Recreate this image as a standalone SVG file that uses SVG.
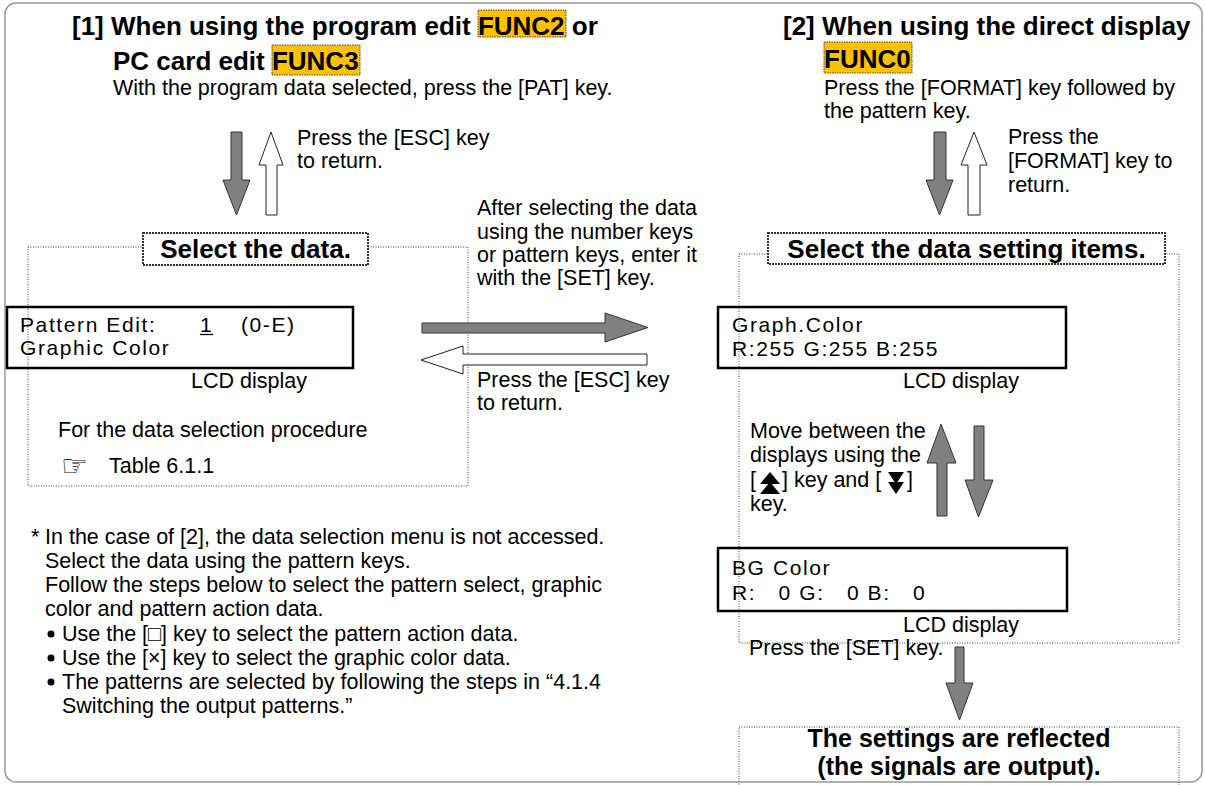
<svg xmlns="http://www.w3.org/2000/svg" width="1205" height="785" viewBox="0 0 1205 785">
  <style>
    text { font-family: "Liberation Sans", Arial, sans-serif; fill: #000; }
    .title { font-size: 26px; font-weight: bold; }
    .body { font-size: 21.5px; }
    .head { font-size: 26px; font-weight: bold; }
    .result { font-size: 25px; font-weight: bold; }
    .lcd { font-size: 21px; letter-spacing: 1.6px; }
    .frame { fill: none; stroke: #444; stroke-width: 1; stroke-dasharray: 1 1.5; }
    .label-box { fill: #fff; stroke: #333; stroke-width: 2; stroke-dasharray: 2 1; }
    .lcd-box { fill: none; stroke: #000; stroke-width: 2.5; }
    .hl { fill: #FFC000; stroke: #444; stroke-width: 1; stroke-dasharray: 1.5 1; }
    .arrow-dark { fill: #808080; stroke: #333; stroke-width: 1; }
    .arrow-light { fill: #fff; stroke: #222; stroke-width: 1; }
  </style>

  <!-- outer frame -->
  <rect x="5" y="3" width="1197" height="779" rx="11" ry="11" fill="#fff" stroke="#999" stroke-width="1.5"/>

  <!-- section [1] heading -->
  <g id="heading-1">
    <rect class="hl" x="478" y="10" width="88" height="27"/>
    <rect class="hl" x="272" y="45" width="88" height="30"/>
    <text class="title" x="72" y="35">[1] When using the program edit FUNC2 or</text>
    <text class="title" x="113" y="70">PC card edit FUNC3</text>
    <text class="body" x="113" y="95">With the program data selected, press the [PAT] key.</text>
  </g>

  <!-- section [2] heading -->
  <g id="heading-2">
    <rect class="hl" x="824" y="42" width="88" height="31"/>
    <text class="title" x="783" y="35">[2] When using the direct display</text>
    <text class="title" x="824" y="68">FUNC0</text>
    <text class="body" x="824" y="95">Press the [FORMAT] key followed by</text>
    <text class="body" x="824" y="118">the pattern key.</text>
  </g>

  <!-- left data selection area -->
  <g id="select-data">
    <rect class="frame" x="28" y="247" width="440" height="239"/>
    <rect class="label-box" x="143" y="233" width="225" height="32"/>
    <text class="head" x="255.5" y="258" text-anchor="middle">Select the data.</text>
  </g>

  <g id="lcd-pattern-edit">
    <rect class="lcd-box" x="7" y="307" width="346" height="61"/>
    <text class="lcd" x="20" y="332">Pattern Edit:</text>
    <text class="lcd" x="200" y="332">1</text>
    <line x1="200" y1="334.5" x2="213" y2="334.5" stroke="#000" stroke-width="1.3"/>
    <text class="lcd" x="241" y="332">(0-E)</text>
    <text class="lcd" x="20" y="355">Graphic Color</text>
    <text class="body" x="191" y="388">LCD display</text>
  </g>

  <g id="reference-note">
    <text class="body" x="58" y="437">For the data selection procedure</text>
    <text x="61" y="476" font-family="DejaVu Sans, sans-serif" font-size="30">☞</text>
    <text class="body" x="109" y="473">Table 6.1.1</text>
  </g>

  <!-- labels on the transitions -->
  <g id="esc-label-top">
    <text class="body" x="297" y="145">Press the [ESC] key</text>
    <text class="body" x="297" y="168">to return.</text>
  </g>
  <g id="format-label">
    <text class="body" x="1008" y="144">Press the</text>
    <text class="body" x="1008" y="168">[FORMAT] key to</text>
    <text class="body" x="1008" y="192">return.</text>
  </g>
  <g id="enter-label">
    <text class="body" x="477" y="215">After selecting the data</text>
    <text class="body" x="477" y="239">using the number keys</text>
    <text class="body" x="477" y="262">or pattern keys, enter it</text>
    <text class="body" x="477" y="285">with the [SET] key.</text>
  </g>
  <g id="esc-label-mid">
    <text class="body" x="477" y="387">Press the [ESC] key</text>
    <text class="body" x="477" y="410">to return.</text>
  </g>

  <!-- right data setting area -->
  <g id="select-items">
    <rect class="frame" x="739" y="254" width="440" height="389"/>
    <rect class="label-box" x="768" y="233" width="397" height="31"/>
    <text class="head" x="966.5" y="258" text-anchor="middle">Select the data setting items.</text>
  </g>

  <g id="lcd-graph-color">
    <rect class="lcd-box" x="718" y="307" width="348" height="61"/>
    <text class="lcd" x="732" y="332">Graph.Color</text>
    <text class="lcd" x="732" y="356">R:255 G:255 B:255</text>
    <text class="body" x="903" y="388">LCD display</text>
  </g>

  <g id="move-label">
    <text class="body" x="750" y="438">Move between the</text>
    <text class="body" x="750" y="462">displays using the</text>
    <text class="body" x="750" y="487">[</text>
    <polygon points="770,472 760,484 780,484" fill="#000"/>
    <polygon points="770,482 760,494 780,494" fill="#000"/>
    <text class="body" x="782" y="487">] key and [</text>
    <polygon points="896,494 888,482 904,482" fill="#000"/>
    <polygon points="896,484 888,472 904,472" fill="#000"/>
    <text class="body" x="907" y="487">]</text>
    <text class="body" x="750" y="511">key.</text>
  </g>

  <g id="lcd-bg-color">
    <rect class="lcd-box" x="718" y="548" width="349" height="63"/>
    <text class="lcd" x="732" y="575">BG Color</text>
    <text class="lcd" x="732" y="600" xml:space="preserve">R:   0 G:   0 B:   0</text>
    <text class="body" x="903" y="632">LCD display</text>
  </g>

  <g id="set-label">
    <text class="body" x="749" y="655">Press the [SET] key.</text>
  </g>

  <g id="result">
    <rect class="frame" x="739" y="727" width="440" height="80"/>
    <text class="result" x="959" y="747" text-anchor="middle">The settings are reflected</text>
    <text class="result" x="959" y="775" text-anchor="middle">(the signals are output).</text>
  </g>

  <!-- footnote -->
  <g id="footnote">
    <text class="body" x="31" y="544">*</text>
    <text class="body" x="45" y="544">In the case of [2], the data selection menu is not accessed.</text>
    <text class="body" x="45" y="568">Select the data using the pattern keys.</text>
    <text class="body" x="45" y="592">Follow the steps below to select the pattern select, graphic</text>
    <text class="body" x="45" y="616">color and pattern action data.</text>
    <circle cx="51" cy="634" r="3.5" fill="#000"/>
    <text class="body" x="62" y="641">Use the [□] key to select the pattern action data.</text>
    <circle cx="51" cy="658" r="3.5" fill="#000"/>
    <text class="body" x="62" y="665">Use the [×] key to select the graphic color data.</text>
    <circle cx="51" cy="682" r="3.5" fill="#000"/>
    <text class="body" x="62" y="689">The patterns are selected by following the steps in “4.1.4</text>
    <text class="body" x="62" y="713">Switching the output patterns.”</text>
  </g>

  <!-- connectors -->
  <g id="connectors">
    <!-- [1]: down into data selection, back up with ESC -->
    <polygon class="arrow-dark" points="231,132 242,132 242,180 250,180 236.5,215 223,180 231,180"/>
    <polygon class="arrow-light" points="271,132 283,165 277,165 277,215 266,215 266,165 259,165"/>
    <!-- [2]: down into setting items, back up with FORMAT -->
    <polygon class="arrow-dark" points="934,132 946,132 946,180 953,180 939.5,215 926,180 934,180"/>
    <polygon class="arrow-light" points="974,132 987,165 980,165 980,215 968,215 968,165 961,165"/>
    <!-- SET into the settings, ESC back -->
    <polygon class="arrow-dark" points="422,323 605,323 605,313 648,327.5 605,342 605,333 422,333"/>
    <polygon class="arrow-light" points="647,354 647,365 463,365 463,374 421,360 463,346 463,354"/>
    <!-- move between the two displays -->
    <polygon class="arrow-dark" points="941,424 956,463 947,463 947,516 937,516 937,463 927,463"/>
    <polygon class="arrow-dark" points="974,426 984,426 984,480 993,480 978.5,517 965,480 974,480"/>
    <!-- SET key to result -->
    <polygon class="arrow-dark" points="955,647 964,647 964,683 973,683 959.5,720 946,683 955,683"/>
  </g>
</svg>
